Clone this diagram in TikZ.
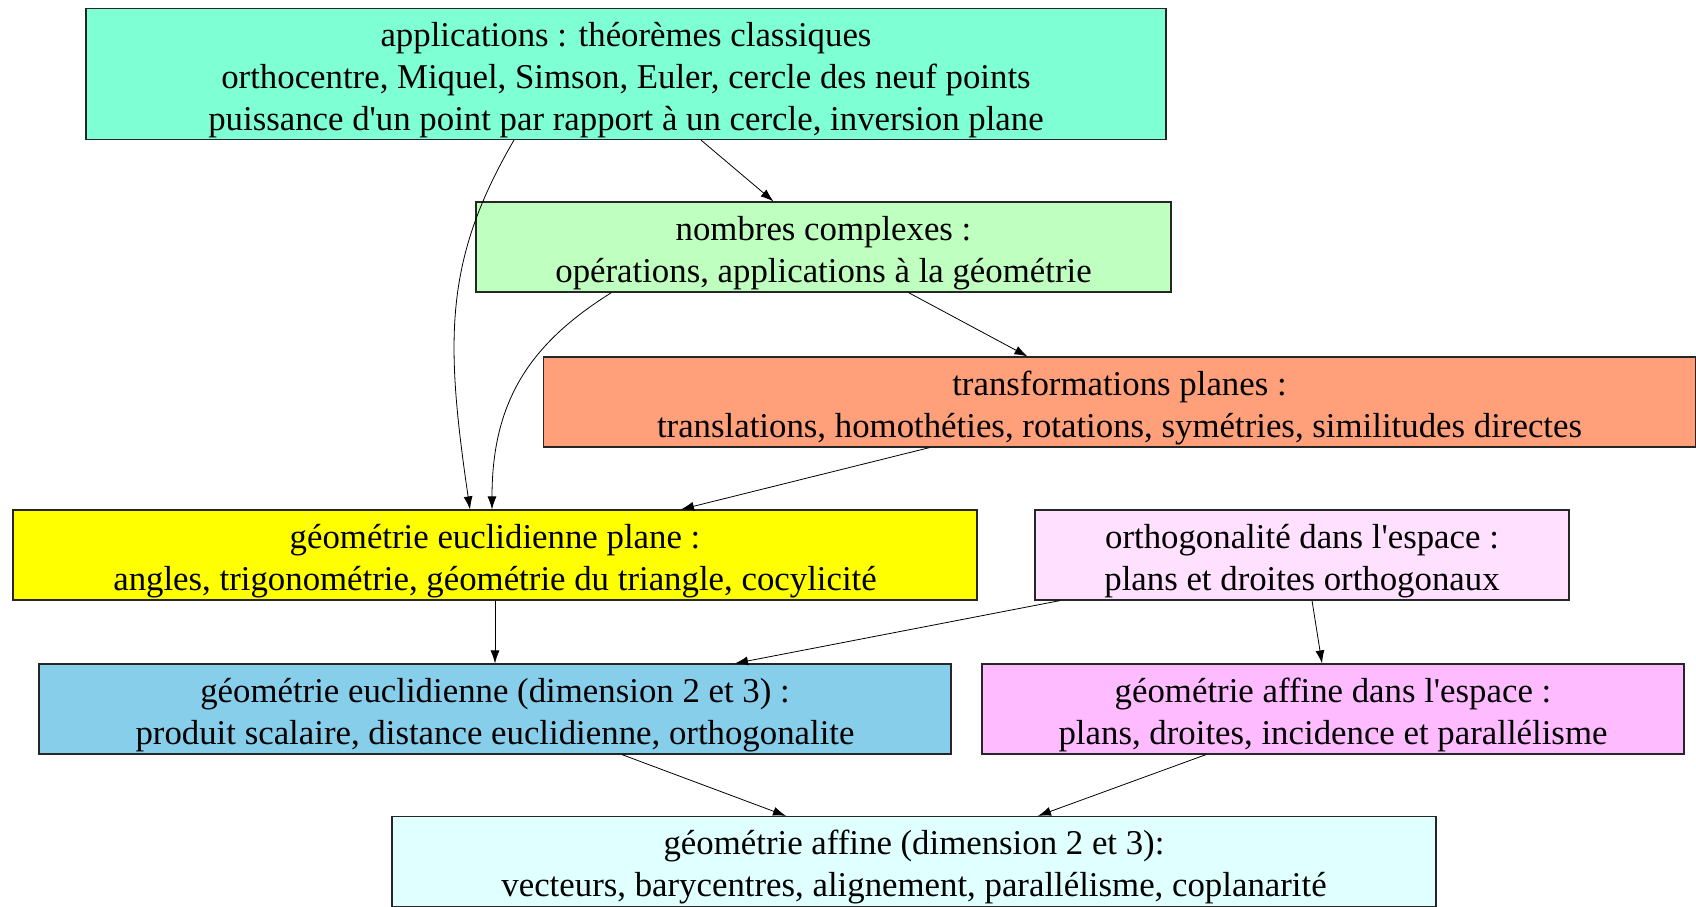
\documentclass[tikz,border=0pt]{standalone}
\usepackage{fontspec}
\setmainfont[Ligatures=TeXOff]{Liberation Serif}
\usetikzlibrary{arrows.meta}
\definecolor{aquam}{HTML}{7FFFD4}
\definecolor{vertpale}{HTML}{BFFFBF}
\definecolor{saumon}{HTML}{FFA07A}
\definecolor{jaune}{HTML}{FFFF00}
\definecolor{rosepale}{HTML}{FFE0FF}
\definecolor{bleuciel}{HTML}{87CEEB}
\definecolor{mauve}{HTML}{FFBBFF}
\definecolor{cyanpale}{HTML}{E0FFFF}
\newcommand{\haut}{\rule{0pt}{18pt}}
\begin{document}
\begin{tikzpicture}[x=0.5pt,y=-0.5pt,
    boite/.style={draw=black!85, line width=0.6pt, align=center, inner sep=0pt,
        font=\fontsize{17.4}{21}\selectfont, minimum height=45pt},
    fleche/.style={-{Latex[length=6.5pt,width=4.5pt]}, thin}]
    \useasboundingbox (0,0) rectangle (1696,906);

    % niveau du haut
    \node[boite, fill=aquam, minimum width=540pt, minimum height=65.5pt] (apps) at (626,74)
        {\haut applications : théorèmes classiques\\orthocentre, Miquel, Simson, Euler, cercle des neuf points\\puissance d'un point par rapport à un cercle, inversion plane};
    \node[boite, fill=vertpale, minimum width=347.5pt] (cplx) at (823.5,247)
        {\haut nombres complexes :\\ opérations, applications à la géométrie};
    \node[boite, fill=saumon, minimum width=576pt] (transf) at (1119.5,402)
        {\haut transformations planes :\\translations, homothéties, rotations, symétries, similitudes directes};

    % niveau du milieu
    \node[boite, fill=jaune, minimum width=482pt] (eucplane) at (495,555)
        {\haut géométrie euclidienne plane :\\angles, trigonométrie, géométrie du triangle, cocylicité};
    \node[boite, fill=rosepale, minimum width=267pt] (ortho) at (1302,555)
        {\haut orthogonalité dans l'espace :\\plans et droites orthogonaux};
    \node[boite, fill=bleuciel, minimum width=456pt] (eucdim) at (495,709)
        {\haut géométrie euclidienne (dimension 2 et 3) :\\produit scalaire, distance euclidienne, orthogonalite};
    \node[boite, fill=mauve, minimum width=351pt] (affesp) at (1333,709)
        {\haut géométrie affine dans l'espace :\\plans, droites, incidence et parallélisme};

    % niveau du bas
    \node[boite, fill=cyanpale, minimum width=522pt] (aff) at (914,861.5)
        {\haut géométrie affine (dimension 2 et 3):\\vecteurs, barycentres, alignement, parallélisme, coplanarité};

    % fleches
    \draw[fleche] ([xshift=-56pt]apps.south) .. controls +(-70,120) and +(-25,-170) .. ([xshift=-12.5pt]eucplane.north);
    \draw[fleche] ([xshift=37.5pt]apps.south) -- ([xshift=-25pt]cplx.north);
    \draw[fleche] ([xshift=-106pt]cplx.south) .. controls +(-80,50) and +(0,-110) .. ([xshift=-1.5pt]eucplane.north);
    \draw[fleche] ([xshift=42.5pt]cplx.south) -- ([xshift=-46pt]transf.north);
    \draw[fleche] ([xshift=-95pt]transf.south) -- ([xshift=93pt]eucplane.north);
    \draw[fleche] (eucplane.south) -- (eucdim.north);
    \draw[fleche] ([xshift=-121pt]ortho.south) -- ([xshift=120pt]eucdim.north);
    \draw[fleche] ([xshift=5pt]ortho.south) -- ([xshift=-5.5pt]affesp.north);
    \draw[fleche] ([xshift=63.5pt]eucdim.south) -- ([xshift=-64pt]aff.north);
    \draw[fleche] ([xshift=-63.5pt]affesp.south) -- ([xshift=62pt]aff.north);
\end{tikzpicture}
\end{document}
